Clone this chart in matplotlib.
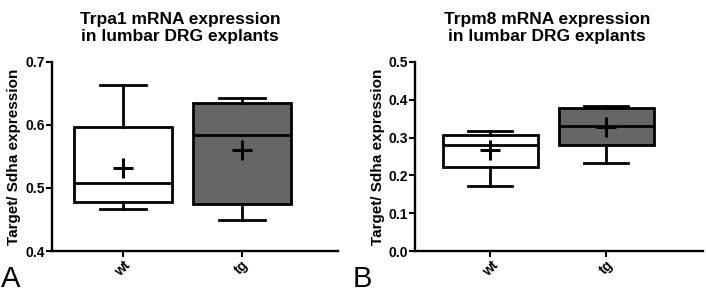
import matplotlib.pyplot as plt

plt.rcParams['font.family'] = ['Liberation Sans', 'DejaVu Sans']

# Data
groups = ['wt', 'tg']

# Trpa1 box stats: whisker low, Q1, median, Q3, whisker high, mean
trpa1_low = [0.466, 0.449]
trpa1_q1 = [0.477, 0.474]
trpa1_med = [0.508, 0.584]
trpa1_q3 = [0.596, 0.635]
trpa1_high = [0.664, 0.643]
trpa1_mean = [0.532, 0.560]

# Trpm8 box stats
trpm8_low = [0.171, 0.233]
trpm8_q1 = [0.223, 0.279]
trpm8_med = [0.279, 0.330]
trpm8_q3 = [0.307, 0.378]
trpm8_high = [0.318, 0.384]
trpm8_mean = [0.268, 0.328]

fills = ['white', '#666666']
lw = 2.0


def make_stats(low, q1, med, q3, high, mean):
    return [dict(label=g, whislo=low[i], q1=q1[i], med=med[i], q3=q3[i],
                 whishi=high[i], mean=mean[i], fliers=[])
            for i, g in enumerate(groups)]


def draw_panel(ax, stats, title, ylim, yticks, xlim, title_x):
    bp = ax.bxp(stats, positions=[1, 2], widths=0.82, capwidths=0.38,
                showmeans=True, patch_artist=True,
                boxprops=dict(linewidth=lw, edgecolor='black'),
                medianprops=dict(color='black', linewidth=lw),
                whiskerprops=dict(color='black', linewidth=lw),
                capprops=dict(color='black', linewidth=lw),
                meanprops=dict(marker='+', markersize=15, markeredgewidth=2.2,
                               markeredgecolor='black'))
    for patch, c in zip(bp['boxes'], fills):
        patch.set_facecolor(c)
    ax.set_xlim(*xlim)
    ax.set_ylim(*ylim)
    ax.set_yticks(yticks)
    ax.set_yticklabels([f'{t:.1f}' for t in yticks], fontweight='bold', fontsize=10)
    ax.set_xticks([1, 2])
    ax.set_xticklabels(groups, rotation=45, ha='center', fontweight='bold', fontsize=10)
    for s in ['top', 'right']:
        ax.spines[s].set_visible(False)
    for s in ['left', 'bottom']:
        ax.spines[s].set_linewidth(1.7)
    ax.tick_params(width=1.5, length=4, pad=1)
    ax.set_ylabel('Target/ Sdha expression', fontweight='bold', fontsize=11, labelpad=3)
    ax.set_title(title, fontweight='bold', fontsize=12.5, x=title_x, pad=15,
                 linespacing=1.15)


fig = plt.figure(figsize=(7.06, 2.96), dpi=100)
ax1 = fig.add_axes([0.0737, 0.152, 0.405, 0.639])
ax2 = fig.add_axes([0.588, 0.152, 0.408, 0.639])

draw_panel(ax1, make_stats(trpa1_low, trpa1_q1, trpa1_med, trpa1_q3, trpa1_high, trpa1_mean),
           'Trpa1 mRNA expression\nin lumbar DRG explants',
           (0.4, 0.7), [0.4, 0.5, 0.6, 0.7], (0.403, 2.807), 0.448)
draw_panel(ax2, make_stats(trpm8_low, trpm8_q1, trpm8_med, trpm8_q3, trpm8_high, trpm8_mean),
           'Trpm8 mRNA expression\nin lumbar DRG explants',
           (0.0, 0.5), [0.0, 0.1, 0.2, 0.3, 0.4, 0.5], (0.353, 2.836), 0.458)

fig.text(0.002, 0.01, 'A', fontsize=21, va='bottom', ha='left')
fig.text(0.500, 0.01, 'B', fontsize=21, va='bottom', ha='left')

fig.savefig('out.png', dpi=100)
